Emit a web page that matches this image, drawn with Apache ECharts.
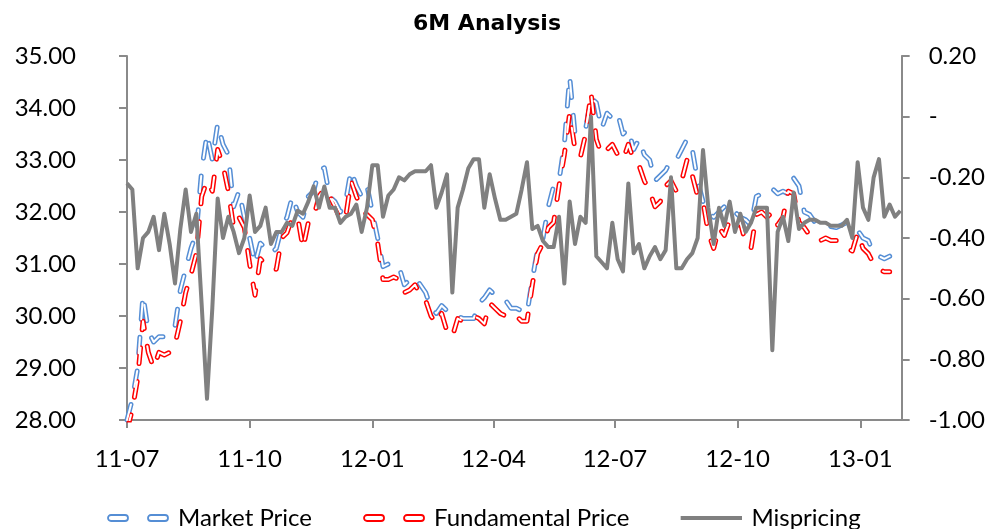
<!DOCTYPE html>
<html>
<head>
<meta charset="utf-8">
<title>6M Analysis</title>
<script src="https://cdn.jsdelivr.net/npm/echarts@6/dist/echarts.min.js"></script>
<style>
  html, body { margin: 0; padding: 0; background: #fff; }
  #chart { width: 988px; height: 529px; }
</style>
</head>
<body>
<div id="chart"></div>
<script>
// sample dates (every 4 days)
const dates = [
  '2011-07-01','2011-07-05','2011-07-09','2011-07-13','2011-07-17','2011-07-21','2011-07-25','2011-07-29','2011-08-02','2011-08-06',
  '2011-08-10','2011-08-14','2011-08-18','2011-08-22','2011-08-26','2011-08-30','2011-09-03','2011-09-07','2011-09-11','2011-09-15',
  '2011-09-19','2011-09-23','2011-09-27','2011-10-01','2011-10-05','2011-10-09','2011-10-13','2011-10-17','2011-10-21','2011-10-25',
  '2011-10-29','2011-11-02','2011-11-06','2011-11-10','2011-11-14','2011-11-18','2011-11-22','2011-11-26','2011-11-30','2011-12-04',
  '2011-12-08','2011-12-12','2011-12-16','2011-12-20','2011-12-24','2011-12-28','2012-01-01','2012-01-05','2012-01-09','2012-01-13',
  '2012-01-17','2012-01-21','2012-01-25','2012-01-29','2012-02-02','2012-02-06','2012-02-10','2012-02-14','2012-02-18','2012-02-22',
  '2012-02-26','2012-03-01','2012-03-05','2012-03-09','2012-03-13','2012-03-17','2012-03-21','2012-03-25','2012-03-29','2012-04-02',
  '2012-04-06','2012-04-10','2012-04-14','2012-04-18','2012-04-22','2012-04-26','2012-04-30','2012-05-04','2012-05-08','2012-05-12',
  '2012-05-16','2012-05-20','2012-05-24','2012-05-28','2012-06-01','2012-06-05','2012-06-09','2012-06-13','2012-06-17','2012-06-21',
  '2012-06-25','2012-06-29','2012-07-03','2012-07-07','2012-07-11','2012-07-15','2012-07-19','2012-07-23','2012-07-27','2012-07-31',
  '2012-08-04','2012-08-08','2012-08-12','2012-08-16','2012-08-20','2012-08-24','2012-08-28','2012-09-01','2012-09-05','2012-09-09',
  '2012-09-13','2012-09-17','2012-09-21','2012-09-25','2012-09-29','2012-10-03','2012-10-07','2012-10-11','2012-10-15','2012-10-19',
  '2012-10-23','2012-10-27','2012-10-31','2012-11-04','2012-11-08','2012-11-12','2012-11-16','2012-11-20','2012-11-24','2012-11-28',
  '2012-12-02','2012-12-06','2012-12-10','2012-12-14','2012-12-18','2012-12-22','2012-12-26','2012-12-30','2013-01-03','2013-01-07',
  '2013-01-11','2013-01-15','2013-01-19','2013-01-23','2013-01-27','2013-01-31'
];

const marketPrice = [
  28.0, 28.4, 29.0, 30.4, 29.7, 29.5, 29.6, 29.6, 29.75, 29.8,
  30.5, 30.9, 31.3, 31.6, 32.8, 33.5, 33.0, 33.7, 33.3, 33.1,
  32.1, 32.4, 31.9, 31.5, 31.0, 31.4, 31.3, 31.2, 31.3, 31.7,
  31.9, 32.3, 32.0, 31.9, 32.3, 32.4, 32.8, 32.85, 32.3, 32.2,
  32.0, 32.2, 32.8, 32.5, 32.3, 32.5, 32.0, 31.5, 30.95, 31.0,
  31.0, 30.95, 30.6, 30.7, 30.75, 30.6, 30.45, 30.15, 30.05, 30.2,
  30.1, 30.0, 30.0, 29.95, 29.95, 29.95, 30.25, 30.35, 30.5, 30.4,
  30.35, 30.3, 30.15, 30.15, 30.1, 30.05, 30.7, 31.3, 31.5, 32.1,
  32.5, 32.6, 33.3, 34.6, 33.5, 33.6, 33.6, 34.2, 34.1, 33.6,
  33.9, 33.8, 33.9, 33.5, 33.6, 33.2, 33.4, 33.1, 33.0, 32.6,
  32.7, 32.8, 33.0, 33.0, 33.2, 33.4, 33.2, 32.6, 32.2, 32.0,
  31.9, 32.0, 32.1, 31.95, 32.0, 31.9, 31.85, 31.75, 32.3, 32.35,
  32.35, 32.45, 32.35, 32.4, 32.35, 32.65, 32.5, 32.0, 31.95, 31.8,
  31.8, 31.75, 31.72, 31.7, 31.75, 31.8, 31.7, 31.65, 31.5, 31.45,
  31.2, 31.15, 31.1, 31.15, null, null
];

const fundamentalPrice = [
  27.8, 28.2, 28.8, 29.9, 29.3, 29.0, 29.3, 29.25, 29.3, 29.45,
  29.9, 30.45, 30.8, 31.2, 32.3, 32.6, 32.4, 33.2, 32.9, 32.4,
  31.7, 31.9, 31.7, 31.0, 30.4, 31.1, 31.0, 30.9, 30.9, 31.5,
  31.6, 31.9, 31.9, 31.3, 31.8, 31.9, 32.3, 32.45, 32.3, 32.1,
  31.85, 31.9, 32.6, 32.3, 32.05, 31.95, 31.85, 31.4, 30.7, 30.7,
  30.75, 30.7, 30.45, 30.5, 30.6, 30.4, 30.3, 30.0, 29.85, 30.05,
  29.7, 29.6, 29.95, 29.9, 29.95, 30.0, 29.95, 29.85, 30.25, 30.15,
  30.05, 30.0, 29.95, 30.0, 29.9, 29.9, 30.6, 31.2, 31.4, 31.7,
  31.8, 32.5, 33.1, 33.9, 33.2, 33.05, 33.5, 34.3, 33.4, 33.1,
  33.2, 33.3, 33.1, 33.0, 33.3, 33.0, 32.9, 32.6, 32.4, 32.1,
  32.2, 32.5, 32.6, 32.4, 32.6, 33.0, 32.7, 32.3, 32.2, 31.6,
  31.3, 31.7, 31.55, 31.85, 31.7, 31.8, 31.4, 31.3, 31.95, 32.0,
  31.9, 32.0, 31.75, 31.9, 32.4, 32.35, 31.8, 31.7, 31.55, 31.45,
  31.45, 31.5, 31.45, 31.45, 31.4, 31.3, 31.25, 31.6, 31.3, 31.2,
  31.0, 30.9, 30.85, 30.85, null, null
];

const mispricing = [
  -0.22, -0.24, -0.50, -0.40, -0.38, -0.33, -0.44, -0.32, -0.42, -0.55,
  -0.37, -0.24, -0.38, -0.32, -0.62, -0.93, -0.63, -0.27, -0.40, -0.33,
  -0.38, -0.45, -0.40, -0.26, -0.38, -0.36, -0.30, -0.42, -0.38, -0.38,
  -0.35, -0.36, -0.31, -0.32, -0.28, -0.23, -0.30, -0.23, -0.30, -0.30,
  -0.35, -0.33, -0.32, -0.29, -0.38, -0.30, -0.16, -0.16, -0.33, -0.26,
  -0.24, -0.20, -0.21, -0.19, -0.18, -0.18, -0.18, -0.16, -0.30, -0.25,
  -0.19, -0.58, -0.30, -0.24, -0.17, -0.14, -0.14, -0.30, -0.19, -0.27,
  -0.34, -0.34, -0.33, -0.32, -0.24, -0.15, -0.37, -0.36, -0.41, -0.43,
  -0.43, -0.33, -0.55, -0.28, -0.42, -0.33, -0.35, 0.00, -0.46, -0.48,
  -0.50, -0.35, -0.47, -0.51, -0.22, -0.45, -0.42, -0.50, -0.46, -0.43,
  -0.47, -0.44, -0.20, -0.50, -0.50, -0.47, -0.45, -0.40, -0.11, -0.30,
  -0.42, -0.30, -0.36, -0.28, -0.38, -0.32, -0.38, -0.35, -0.30, -0.30,
  -0.30, -0.77, -0.38, -0.33, -0.41, -0.25, -0.37, -0.35, -0.34, -0.34,
  -0.35, -0.35, -0.36, -0.36, -0.36, -0.34, -0.40, -0.15, -0.30, -0.34,
  -0.20, -0.14, -0.33, -0.29, -0.33, -0.31
];

const tickDates = ['2011-07-01', '2011-10-01', '2012-01-01', '2012-04-01', '2012-07-01', '2012-10-01', '2013-01-01'];
const axisStart = '2011-07-01';
const axisEnd = '2013-02-01';

const blue = '#558ED5';
const red = '#FF0000';
const grey = '#808080';
const axisGrey = '#8A8A8A';
const font = 'Lato';

function toTime(s) {
  const p = s.split('-');
  return new Date(+p[0], +p[1] - 1, +p[2]).getTime();
}
function pairs(values) {
  return dates.map((d, i) => [toTime(d), values[i]]);
}
function svgIcon(body) {
  const svg = "<svg xmlns='http://www.w3.org/2000/svg' width='62' height='10'>" + body + '</svg>';
  return 'image://data:image/svg+xml;charset=utf-8,' + encodeURIComponent(svg);
}
function dashIcon(color) {
  return svgIcon("<g fill='white' stroke='" + color + "' stroke-width='1.8'>" +
    "<rect x='1' y='2' width='20' height='6' rx='3'/><rect x='41' y='2' width='20' height='6' rx='3'/></g>");
}

const dash = [16, 18];

// outlined dashed line = thick coloured dash + thin white dash on top
function outlinedSeries(name, values, color) {
  return [
    {
      name: name,
      type: 'line',
      data: pairs(values),
      yAxisIndex: 0,
      showSymbol: false,
      symbol: 'none',
      itemStyle: { color: color },
      lineStyle: { color: color, width: 5, type: dash, cap: 'round', join: 'round' },
      z: 2
    },
    {
      name: name + ' inner',
      type: 'line',
      data: pairs(values),
      yAxisIndex: 0,
      showSymbol: false,
      symbol: 'none',
      lineStyle: { color: '#fff', width: 2, type: dash, cap: 'round', join: 'round' },
      z: 3,
      silent: true
    }
  ];
}

const chart = echarts.init(document.getElementById('chart'));

chart.setOption({
  animation: false,
  backgroundColor: '#fff',
  title: {
    text: '6M Analysis',
    left: 408,
    top: 8,
    textStyle: { fontFamily: 'DejaVu Sans', fontWeight: 'bold', fontSize: 22, color: '#000' }
  },
  legend: {
    left: 102,
    top: 501,
    itemWidth: 62,
    itemHeight: 10,
    itemGap: 51,
    textStyle: { fontFamily: font, fontSize: 24, color: '#000', padding: [0, 0, 0, 4] },
    data: [
      { name: 'Market Price', icon: dashIcon(blue) },
      { name: 'Fundamental Price', icon: dashIcon(red) },
      { name: 'Mispricing', icon: svgIcon("<line x1='0' y1='5' x2='62' y2='5' stroke='" + grey + "' stroke-width='4'/>") }
    ]
  },
  grid: { left: 127, right: 85, top: 56, bottom: 109, containLabel: false },
  xAxis: {
    type: 'value',
    min: toTime(axisStart),
    max: toTime(axisEnd),
    axisLine: { onZero: false, lineStyle: { color: axisGrey, width: 2 } },
    axisTick: { show: true, length: 8, lineStyle: { color: axisGrey, width: 2 }, customValues: tickDates.map(toTime) },
    axisLabel: {
      customValues: tickDates.map(toTime),
      margin: 27,
      fontFamily: font,
      fontSize: 24,
      color: '#000',
      formatter: function (v) {
        const d = new Date(v);
        return String(d.getFullYear()).slice(2) + '-' + String(d.getMonth() + 1).padStart(2, '0');
      }
    },
    splitLine: { show: false }
  },
  yAxis: [
    {
      type: 'value',
      min: 28,
      max: 35,
      interval: 1,
      axisLine: { show: true, onZero: false, lineStyle: { color: axisGrey, width: 2 } },
      axisTick: { show: true, length: 8, lineStyle: { color: axisGrey, width: 2 } },
      axisLabel: { margin: 51, fontFamily: font, fontSize: 24, color: '#000', formatter: v => v.toFixed(2) },
      splitLine: { show: false }
    },
    {
      type: 'value',
      min: -1,
      max: 0.2,
      interval: 0.2,
      position: 'right',
      axisLine: { show: true, onZero: false, lineStyle: { color: axisGrey, width: 2 } },
      axisTick: { show: true, length: 8, lineStyle: { color: axisGrey, width: 2 } },
      axisLabel: {
        margin: 27,
        fontFamily: font,
        fontSize: 24,
        color: '#000',
        formatter: v => (Math.abs(v) < 1e-9 ? '-' : v.toFixed(2))
      },
      splitLine: { show: false }
    }
  ],
  series: [
    ...outlinedSeries('Market Price', marketPrice, blue),
    ...outlinedSeries('Fundamental Price', fundamentalPrice, red),
    {
      name: 'Mispricing',
      type: 'line',
      data: pairs(mispricing),
      yAxisIndex: 1,
      showSymbol: false,
      symbol: 'none',
      itemStyle: { color: grey },
      lineStyle: { color: grey, width: 4, join: 'round' },
      z: 4
    }
  ]
});

window.addEventListener('resize', function () {
  chart && chart.resize();
});
</script>
</body>
</html>
